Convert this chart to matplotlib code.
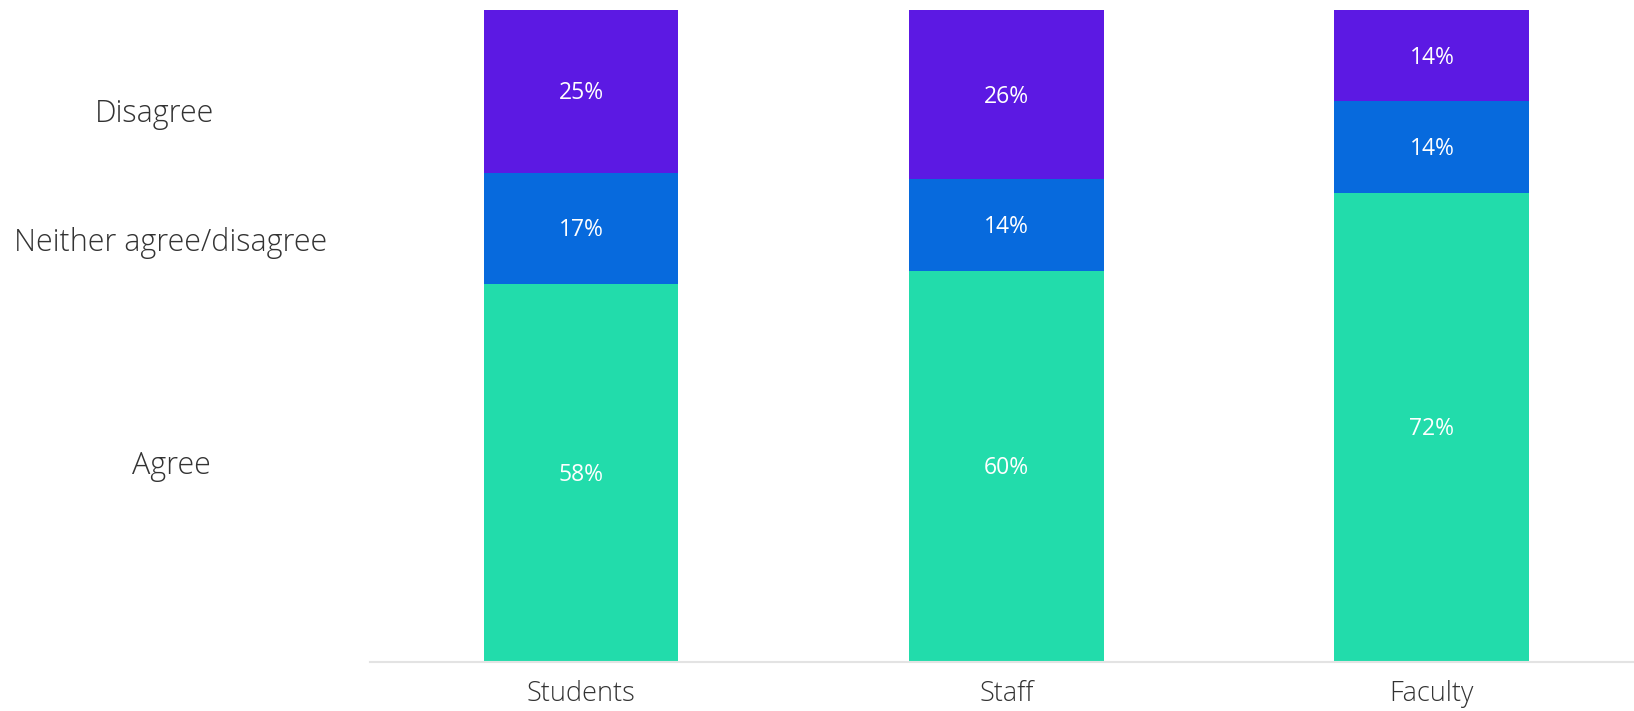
import matplotlib.pyplot as plt
import matplotlib.transforms as mtransforms
import numpy as np

groups = ["Students", "Staff", "Faculty"]
agree = [58, 60, 72]
neither = [17, 14, 14]
disagree = [25, 26, 14]
series_names = ["Agree", "Neither agree/disagree", "Disagree"]
colors = ["#22DCAB", "#076ADD", "#5C19E3"]

plt.rcParams['font.family'] = ['Open Sans', 'DejaVu Sans']

fig = plt.figure(figsize=(16.34, 7.11), dpi=100)
ax = fig.add_axes([0.2264, 0.069, 0.7736, 0.917])

x = np.arange(len(groups))
bottom = np.zeros(len(groups))
for vals, col in zip([agree, neither, disagree], colors):
    vals = np.array(vals, dtype=float)
    ax.bar(x, vals, width=0.458, bottom=bottom, color=col, linewidth=0)
    for xi, b, v in zip(x, bottom, vals):
        ax.text(xi, b + v / 2 - 0.3, f"{int(v)}%", ha='center', va='center',
                color='white', fontsize=16.5)
    bottom += vals

ax.set_xlim(-0.496, 2.475)
ax.set_ylim(0, 100)
ax.set_xticks(x)
ax.set_xticklabels(groups, fontsize=19.5, color='#333333', fontweight='light')
ax.tick_params(axis='x', length=0, pad=13)
ax.set_yticks([])
for s in ['top', 'right', 'left']:
    ax.spines[s].set_visible(False)
ax.spines['bottom'].set_color('#E3E3E3')
ax.spines['bottom'].set_linewidth(1.5)

# row labels on the left
trans = mtransforms.blended_transform_factory(fig.transFigure, ax.transData)
label_y = [30.1, 64.3, 84.0]
label_x = [171, 171, 155]
for name, yv, xp in zip(series_names, label_y, label_x):
    ax.text(xp / 1634, yv, name, transform=trans, ha='center', va='center',
            fontsize=22, color='#333333', fontweight='light')

fig.savefig("out.png", dpi=100)
